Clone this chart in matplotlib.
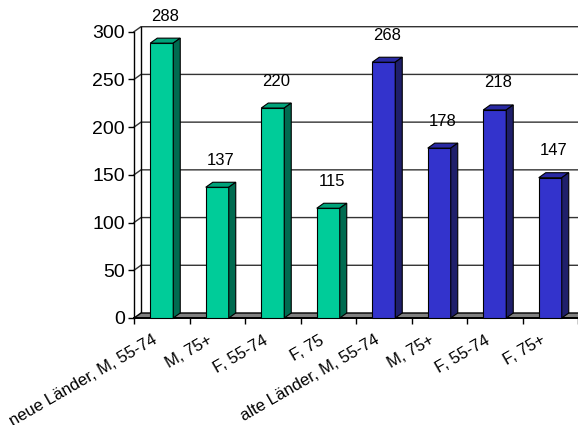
import matplotlib
matplotlib.use("Agg")
import matplotlib.pyplot as plt
from matplotlib.patches import Polygon
from matplotlib.transforms import ScaledTranslation

plt.rcParams['font.family'] = ['Liberation Sans', 'DejaVu Sans']

categories = ["neue Länder, M, 55-74", "M, 75+", "F, 55-74", "F, 75",
              "alte Länder, M, 55-74", "M, 75+", "F, 55-74", "F, 75+"]
values = [288, 137, 220, 115, 268, 178, 218, 147]
groups = ["neue", "neue", "neue", "neue", "alte", "alte", "alte", "alte"]
y_ticks = [0, 50, 100, 150, 200, 250, 300]

palette = {
    "neue": {"front": "#00CC99", "top": "#00A37A", "side": "#006B50"},
    "alte": {"front": "#3333CC", "top": "#2929A3", "side": "#1F1F6B"},
}

W, H, DPI = 578, 425, 100
fig = plt.figure(figsize=(W / DPI, H / DPI), dpi=DPI)
fig.patch.set_facecolor("white")

# axes box in pixels: front axis at x=134, floor at y=318, 300 at y=31.7
x0, y0, ytop = 134, 318, 31.7
ax = fig.add_axes([x0 / W, (H - y0) / H, (W - x0) / W, (y0 - ytop) / H])
n = len(categories)
ax.set_xlim(0, n)
ax.set_ylim(0, 300)
ax.set_facecolor("none")

# 3D depth offset (pixels -> data units)
px_per_cat = (W - x0) / n
px_per_val = (y0 - ytop) / 300
dx = 7 / px_per_cat
dy = 5 / px_per_val

# back wall gridlines with side-wall diagonals
for v in y_ticks[1:]:
    ax.plot([0, dx, n + dx], [v, v + dy, v + dy], color="#333333", lw=1.0,
            clip_on=False, zorder=1, solid_joinstyle="miter")
# back wall left edge
ax.plot([dx, dx], [dy, 300 + dy], color="black", lw=1.0, clip_on=False, zorder=1)

# floor
floor = Polygon([(0, 0), (n, 0), (n + dx, dy), (dx, dy)], closed=True,
                facecolor="#808080", edgecolor="black", lw=1.0, clip_on=False, zorder=2)
ax.add_patch(floor)

# bars
bw = 23 / px_per_cat
for i, (v, g) in enumerate(zip(values, groups)):
    c = palette[g]
    xl = i + 0.5 - bw / 2
    xr = xl + bw
    ax.bar(i + 0.5, v, width=bw, color=c["front"], edgecolor="black", lw=0.8,
           zorder=4, clip_on=False)
    top = Polygon([(xl, v), (xr, v), (xr + dx, v + dy), (xl + dx, v + dy)], closed=True,
                  facecolor=c["top"], edgecolor="black", lw=0.8, zorder=4, clip_on=False)
    side = Polygon([(xr, 0), (xr + dx, dy), (xr + dx, v + dy), (xr, v)], closed=True,
                   facecolor=c["side"], edgecolor="black", lw=0.8, zorder=4, clip_on=False)
    ax.add_patch(top)
    ax.add_patch(side)
    ax.annotate(str(v), xy=(i + 0.5 + dx / 2, v + dy), xytext=(0, 22),
                textcoords="offset pixels", ha="center", va="center",
                fontsize=12, zorder=5, annotation_clip=False)

# spines
for s in ["top", "right"]:
    ax.spines[s].set_visible(False)
ax.spines["left"].set_color("black")
ax.spines["left"].set_linewidth(1.0)
ax.spines["bottom"].set_color("black")
ax.spines["bottom"].set_linewidth(1.4)
ax.spines["bottom"].set_zorder(3)

# y axis
ax.set_yticks(y_ticks)
ax.set_yticklabels([str(t) for t in y_ticks])
ax.tick_params(axis="y", direction="out", length=4.5, width=1.0, labelsize=14, pad=2)

# x axis: boundary ticks, rotated category labels below
ax.set_xticks([i for i in range(n + 1)])
ax.set_xticklabels([])
ax.tick_params(axis="x", direction="out", length=4, width=1.0)
label_tf = ax.get_xaxis_transform() + ScaledTranslation(-9.5 / DPI, -14.5 / DPI,
                                                         fig.dpi_scale_trans)
for i, lab in enumerate(categories):
    ax.text(i + 0.5, 0, lab, transform=label_tf, rotation=30, rotation_mode="anchor",
            ha="right", va="top", fontsize=12, clip_on=False)

fig.savefig("out.png", dpi=DPI, facecolor="white")
